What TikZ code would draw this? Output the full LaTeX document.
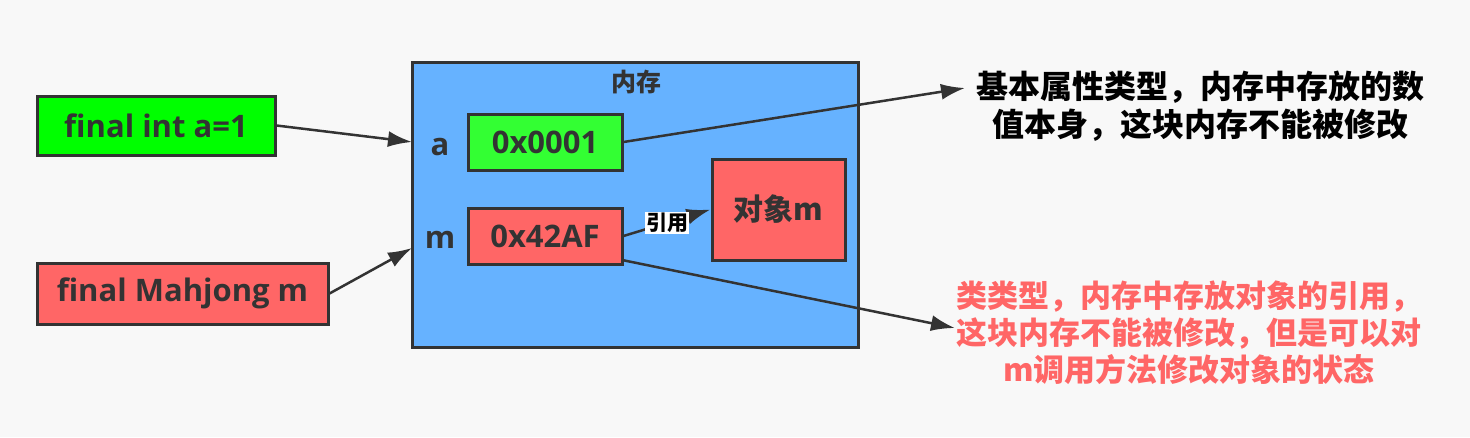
\documentclass[tikz,border=0pt]{standalone}
\usepackage{fontspec}
\setmainfont{Noto Sans CJK SC}
\newfontfamily\latinf{Open Sans}
\usetikzlibrary{arrows.meta}
\definecolor{bg}{HTML}{F8F8F8}
\definecolor{edge}{HTML}{333333}
\definecolor{memblue}{HTML}{66B2FF}
\definecolor{lgreen}{HTML}{00FF00}
\definecolor{vgreen}{HTML}{33FF33}
\definecolor{lred}{HTML}{FF6666}
\begin{document}
\begin{tikzpicture}[x=1pt,y=-1pt,
  box/.style={draw=edge,line width=3pt,rectangle,inner sep=0pt,text=edge,font=\latinf\bfseries\fontsize{31}{36}\selectfont},
  arr/.style={draw=edge,line width=2.5pt,-{Latex[length=24pt,width=16pt]}},
  lbl/.style={text=edge,font=\latinf\bfseries\fontsize{31}{36}\selectfont,inner sep=0pt}
]
\fill[bg] (0,0) rectangle (1470,437);
\useasboundingbox (0,0) rectangle (1470,437);

\node[box,fill=lgreen,minimum width=238pt,minimum height=59pt] (gl) at (156,125.5) {\raisebox{-2pt}{final int a=1}};
\node[box,fill=lred,minimum width=291pt,minimum height=61pt] (rl) at (182.5,293.5) {\raisebox{-2pt}{final Mahjong m}};

\node[box,fill=memblue,minimum width=446pt,minimum height=285pt] (mem) at (635,204.5) {};
\node[text=edge,font=\bfseries\fontsize{25}{30}\selectfont,inner sep=0pt] (memlbl) at (636,82) {内存};

\node[lbl] (la) at (440,147) {a};
\node[lbl] (lm) at (440,240) {m};

\node[box,fill=vgreen,minimum width=154pt,minimum height=56pt] (v1) at (545,142) {0x0001};
\node[box,fill=lred,minimum width=154pt,minimum height=56pt] (v2) at (545,236) {0x42AF};
\node[box,fill=lred,minimum width=133pt,minimum height=101pt,font=\bfseries\fontsize{30}{36}\selectfont] (obj) at (778.5,209.5) {对象m};

\node[align=center,text=black,font=\bfseries\fontsize{32}{38}\selectfont,inner sep=0pt] (t1) at (1200,106)
  {基本属性类型，内存中存放的数\\值本身，这块内存不能被修改};
\node[align=center,text=lred,font=\bfseries\fontsize{31}{37}\selectfont,inner sep=0pt] (t2) at (1189,333)
  {类类型，内存中存放对象的引用，\\这块内存不能被修改，但是可以对\\m调用方法修改对象的状态};

\coordinate (aIn) at (412,142);
\coordinate (mIn) at (412,248);
\coordinate (t1p) at (965,88);
\coordinate (t2p) at (955,328);
\coordinate (v2s) at (622,260);

\draw[arr] (gl.east) -- (aIn);
\draw[arr] (rl.east) -- (mIn);
\draw[arr] (v1.east) -- (t1p);
\draw[arr] (v2s) -- (t2p);
\draw[arr] (v2.east) -- node[fill=white,inner sep=1pt,text=black,font=\bfseries\fontsize{21}{24}\selectfont] (ref) {引用} (obj.west);
\end{tikzpicture}
\end{document}
